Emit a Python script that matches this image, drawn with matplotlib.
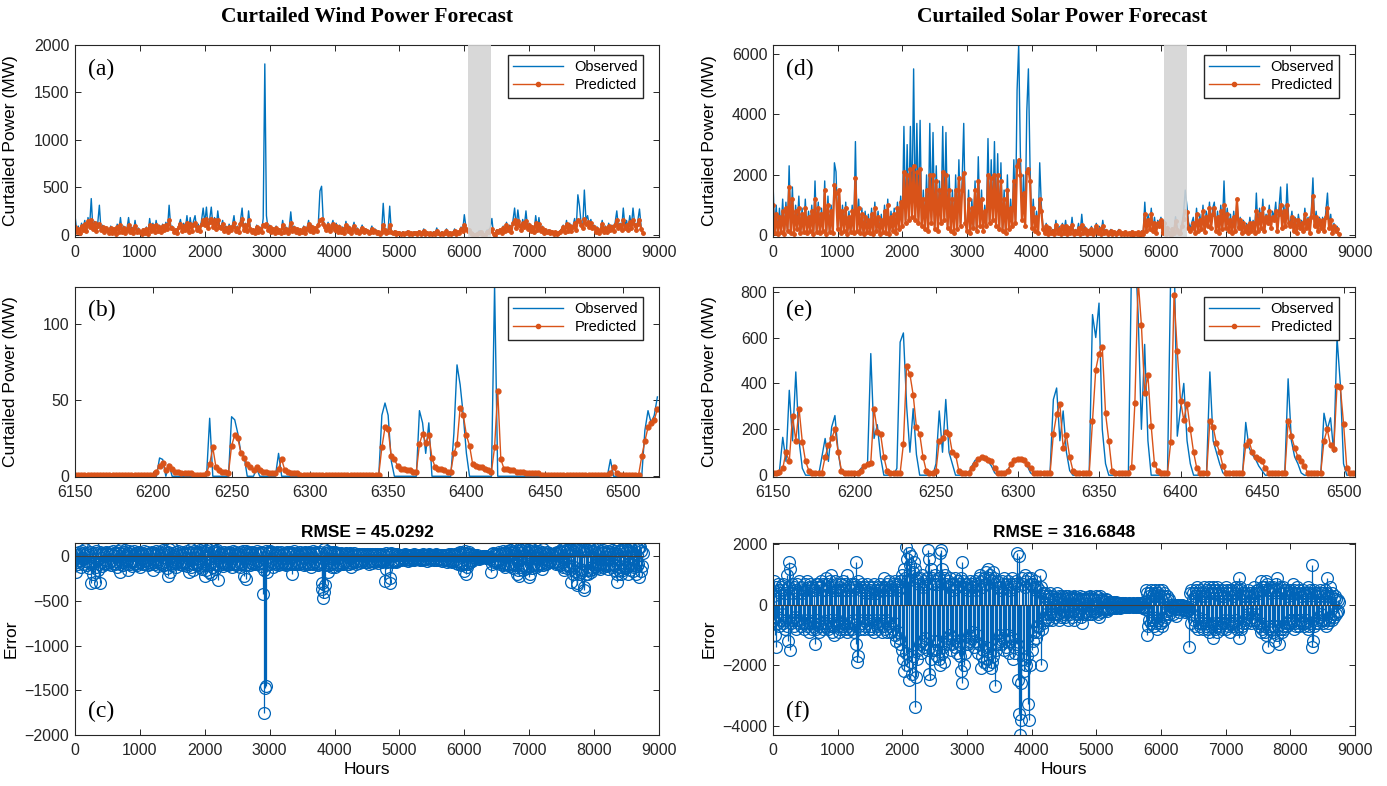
import matplotlib.pyplot as plt
import numpy as np

plt.rcParams['font.family'] = ['Liberation Sans', 'DejaVu Sans']

BLUE = '#0072BD'
ERR_BLUE = '#0064B8'
ORANGE = '#D95319'

# ---- full-year observed / predicted, one value every 25 h ----
year_step = 25

wind_obs = [
    200, 40, 90, 20, 120, 60, 150, 30, 180, 90, 380, 60, 140, 30, 120, 310, 50, 100, 20, 80,
    60, 20, 90, 30, 70, 10, 110, 40, 180, 30, 90, 20, 60, 180, 40, 80, 20, 150, 30, 70,
    40, 10, 60, 20, 80, 10, 170, 40, 120, 30, 150, 40, 100, 30, 110, 50, 130, 60, 310, 80,
    90, 30, 60, 20, 100, 160, 40, 120, 60, 200, 30, 180, 50, 140, 200, 60, 110, 40, 150, 280,
    120, 290, 80, 160, 290, 90, 180, 60, 250, 100, 80, 150, 50, 90, 30, 110, 60, 100, 200, 40,
    90, 30, 150, 280, 60, 120, 40, 250, 80, 30, 60, 20, 100, 40, 80, 30, 170, 1800, 200, 60,
    100, 40, 70, 20, 90, 30, 60, 20, 150, 40, 80, 20, 60, 240, 50, 90, 30, 70, 20, 60,
    40, 90, 20, 70, 150, 50, 100, 30, 80, 40, 120, 460, 510, 150, 100, 60, 130, 40, 90, 150,
    60, 120, 40, 100, 30, 80, 20, 140, 50, 90, 20, 60, 130, 30, 70, 20, 50, 100, 30, 60,
    50, 20, 40, 90, 30, 60, 20, 40, 10, 30, 330, 60, 20, 40, 300, 30, 20, 40, 10, 30,
    20, 10, 30, 10, 20, 40, 10, 20, 10, 30, 20, 10, 40, 10, 20, 60, 10, 30, 10, 20,
    10, 30, 10, 70, 20, 10, 30, 10, 20, 60, 10, 30, 10, 20, 60, 10, 30, 20, 80, 40,
    210, 80, 40, 60, 20, 10, 0, 0, 12, 38, 39, 5, 0, 0, 48, 43, 73, 170, 0, 0,
    50, 30, 60, 20, 90, 40, 130, 60, 100, 30, 150, 280, 80, 260, 120, 60, 160, 90, 250, 70,
    120, 50, 90, 30, 200, 60, 180, 40, 90, 20, 60, 30, 50, 20, 40, 10, 30, 10, 20, 40,
    60, 100, 30, 150, 50, 120, 40, 90, 170, 60, 420, 300, 120, 80, 470, 150, 200, 100, 160, 80,
    100, 40, 80, 20, 60, 150, 40, 90, 30, 120, 60, 100, 40, 130, 250, 80, 120, 60, 280, 90,
    150, 60, 200, 90, 280, 120, 60, 150, 270, 80, 30,
]
wind_pred = [
    80, 30, 60, 20, 90, 50, 110, 40, 140, 80, 150, 60, 120, 40, 90, 110, 50, 80, 30, 70,
    50, 20, 70, 20, 60, 10, 80, 30, 100, 30, 70, 20, 50, 100, 30, 60, 20, 90, 30, 50,
    30, 10, 50, 20, 60, 10, 100, 40, 90, 30, 100, 40, 80, 30, 90, 50, 100, 60, 150, 70,
    70, 30, 50, 20, 80, 110, 40, 90, 50, 120, 30, 110, 40, 100, 120, 50, 80, 40, 110, 150,
    100, 160, 70, 130, 160, 80, 150, 60, 150, 80, 70, 110, 40, 70, 30, 80, 50, 80, 120, 40,
    70, 30, 110, 160, 50, 100, 40, 150, 60, 30, 50, 20, 80, 30, 60, 30, 100, 90, 110, 50,
    80, 30, 60, 20, 70, 30, 50, 20, 100, 30, 60, 20, 50, 120, 40, 70, 30, 60, 20, 50,
    30, 70, 20, 60, 110, 40, 80, 30, 70, 40, 100, 150, 160, 110, 80, 50, 100, 40, 70, 110,
    50, 90, 30, 80, 30, 60, 20, 100, 40, 70, 20, 50, 90, 30, 50, 20, 40, 70, 30, 50,
    40, 20, 30, 60, 30, 40, 20, 30, 10, 30, 100, 50, 20, 30, 100, 30, 20, 30, 10, 20,
    20, 10, 20, 10, 20, 30, 10, 20, 10, 20, 20, 10, 30, 10, 20, 40, 10, 20, 10, 20,
    10, 20, 10, 40, 20, 10, 20, 10, 20, 40, 10, 20, 10, 20, 40, 10, 30, 20, 60, 40,
    100, 60, 40, 50, 20, 10, 1, 1, 8, 19, 27, 5, 1, 1, 31, 27, 44, 56, 3, 1,
    40, 30, 50, 20, 70, 40, 100, 50, 80, 30, 120, 150, 70, 140, 100, 50, 120, 80, 140, 60,
    100, 40, 80, 30, 120, 50, 110, 40, 70, 20, 50, 30, 40, 20, 30, 10, 30, 10, 20, 30,
    50, 80, 30, 110, 40, 90, 40, 80, 120, 50, 150, 140, 100, 70, 160, 110, 130, 80, 120, 70,
    80, 30, 60, 20, 50, 110, 30, 70, 30, 90, 50, 80, 40, 100, 150, 70, 100, 50, 150, 70,
    100, 50, 130, 70, 150, 100, 50, 110, 150, 60, 20,
]

solar_obs = [
    1800, 100, 1000, 50, 900, 150, 1200, 80, 1100, 200, 2300, 100, 1600, 50, 1000, 300, 1300, 100, 900, 150,
    1200, 100, 800, 200, 1000, 50, 1800, 150, 1100, 100, 900, 200, 1800, 80, 1300, 150, 1000, 100, 2400, 2100,
    300, 1400, 100, 1000, 200, 1100, 80, 800, 150, 1000, 100, 3100, 200, 1200, 100, 900, 50, 800, 150, 700,
    100, 900, 50, 1100, 200, 800, 80, 700, 150, 1000, 100, 1200, 60, 800, 200, 900, 100, 1100, 300, 1300,
    400, 3600, 500, 3000, 600, 3600, 800, 5500, 700, 3700, 600, 3800, 400, 1500, 300, 2000, 200, 3700, 600, 3400,
    300, 2300, 200, 1800, 500, 3600, 600, 3400, 300, 2000, 200, 1500, 100, 2000, 300, 2500, 400, 1800, 3700, 500,
    200, 1500, 100, 1200, 300, 1800, 200, 2600, 400, 1500, 200, 1000, 400, 3200, 500, 2500, 600, 3100, 400, 2700,
    300, 2400, 200, 1500, 100, 2000, 300, 1200, 400, 2500, 500, 4800, 6300, 2800, 600, 2000, 400, 4100, 5500, 2300,
    300, 1200, 200, 800, 100, 2400, 1000, 300, 100, 400, 50, 300, 100, 200, 50, 500, 100, 300, 50, 400,
    100, 500, 50, 300, 100, 600, 50, 200, 100, 400, 50, 700, 100, 300, 50, 200, 100, 300, 50, 200,
    400, 100, 300, 50, 500, 100, 200, 50, 100, 200, 50, 150, 50, 100, 200, 50, 100, 50, 150, 50,
    100, 50, 150, 30, 100, 50, 120, 30, 150, 50, 1100, 200, 700, 300, 900, 200, 600, 100, 500, 400,
    600, 100, 500, 50, 300, 100, 10, 250, 100, 620, 280, 80, 70, 380, 750, 1500, 1000, 450, 230, 420,
    600, 100, 900, 200, 700, 300, 1000, 150, 800, 400, 1100, 300, 900, 1100, 200, 800, 100, 1000, 300, 1800,
    300, 900, 200, 700, 100, 800, 200, 1200, 300, 600, 100, 500, 200, 400, 100, 600, 200, 500, 100, 1400,
    200, 900, 300, 1200, 200, 700, 500, 1000, 300, 800, 600, 1100, 200, 900, 1600, 300, 1000, 400, 1700, 500,
    400, 800, 200, 600, 100, 700, 300, 500, 200, 900, 300, 600, 100, 800, 1900, 400, 800, 200, 600, 300,
    600, 200, 800, 1400, 300, 700, 100, 400, 200, 300, 50,
]
solar_pred = [
    1000, 80, 700, 50, 600, 120, 800, 60, 900, 150, 1600, 90, 1200, 40, 800, 200, 900, 80, 700, 100,
    900, 80, 600, 150, 800, 40, 1200, 100, 900, 80, 700, 150, 1500, 60, 1000, 120, 800, 80, 1650, 1400,
    200, 1500, 80, 800, 150, 900, 60, 600, 120, 800, 80, 1900, 150, 900, 80, 700, 40, 600, 100, 500,
    80, 700, 40, 900, 150, 600, 60, 500, 120, 800, 80, 1000, 50, 600, 150, 700, 80, 900, 200, 1100,
    300, 2100, 400, 2000, 500, 2200, 600, 2300, 500, 2100, 400, 2200, 300, 1200, 200, 1500, 150, 2000, 400, 2000,
    200, 1800, 150, 1500, 400, 2100, 500, 2000, 250, 1500, 150, 1200, 80, 1500, 200, 1900, 300, 1500, 2050, 400,
    150, 1200, 80, 900, 250, 1500, 150, 1800, 300, 1200, 150, 800, 300, 2000, 400, 1900, 500, 2000, 300, 2000,
    200, 1800, 150, 1200, 80, 1500, 200, 900, 300, 1800, 400, 2300, 2500, 2000, 500, 1400, 300, 2100, 2200, 1800,
    250, 900, 150, 600, 80, 1200, 800, 200, 80, 300, 40, 250, 80, 150, 40, 350, 80, 200, 40, 300,
    80, 300, 40, 250, 80, 350, 40, 150, 80, 250, 40, 350, 80, 200, 40, 150, 80, 200, 40, 150,
    300, 80, 200, 40, 300, 80, 150, 40, 80, 150, 40, 100, 40, 80, 150, 40, 80, 40, 100, 40,
    80, 40, 100, 30, 80, 40, 100, 30, 100, 40, 700, 150, 500, 200, 700, 150, 400, 80, 400, 300,
    500, 80, 400, 40, 250, 80, 10, 200, 80, 470, 190, 80, 70, 310, 560, 800, 780, 240, 150, 230,
    400, 80, 700, 150, 500, 200, 800, 100, 600, 300, 900, 250, 700, 900, 150, 600, 80, 800, 200, 1000,
    250, 700, 150, 500, 80, 600, 150, 1200, 250, 500, 80, 400, 150, 300, 80, 400, 150, 400, 80, 800,
    150, 700, 250, 900, 150, 600, 400, 800, 250, 600, 500, 800, 150, 700, 1000, 250, 800, 300, 1000, 400,
    300, 600, 150, 500, 80, 500, 250, 400, 150, 700, 250, 500, 80, 600, 1300, 300, 600, 150, 500, 250,
    500, 150, 600, 900, 250, 500, 80, 300, 150, 200, 40,
]

# ---- prediction errors, one value every 10 h ----
err_step = 10

wind_err = [
    -30, -170, 40, -60, 20, -90, 50, -40, 30, -120, 60, -20, 40, -80, 20, 80, -50, 30, -100, 40,
    -60, 20, -130, 50, -80, -300, 30, -200, 100, -60, -290, 40, -120, 60, -30, -150, 20, -90, 50, -300,
    -60, 30, -110, 40, -70, 20, -90, 50, -40, 30,
    40, -80, 20, -60, 50, -100, 30, -40, 60, -70, 20, -90, 40, -50, 30, -120, 60, -30, 40, -80,
    -170, 80, -60, 30, -100, 50, -40, 70, -90, 20, -50, 40, -150, 60, -80, 30, -60, 50, -110, 20,
    -40, 60, -90, 30, -70, 40, -100, 50, -60, 30,
    -120, 30, -60, 40, -80, 20, -50, 60, -90, 30, -40, 50, -100, 20, -60, 40, -80, 30, -70, 50,
    -150, 40, -60, 20, -90, 60, -40, 30, -110, 50, -70, 20, -80, 40, -60, 70, -100, 30, -50, 60,
    -90, 40, -130, 50, -220, 80, -180, 30, -70, 90,
    -100, 40, -70, 20, -60, 50, -120, 30, -50, 60, -90, 40, -60, 20, -80, 50, -100, 30, -70, 40,
    -60, 30, -110, 60, -90, 40, -180, 50, -120, 80, -70, 40, -150, 60, -90, 30, -60, 50, -100, 40,
    -80, 50, -120, 70, -60, 40, -140, 60, -90, 50,
    -220, 120, -150, 60, -100, 80, -180, 40, -60, 90, -200, 100, -120, 50, -80, 60, -140, 40, -90, 70,
    -270, 50, -100, 30, -60, 40, -80, 20, -110, 50, -70, 30, -90, 40, -60, 20, -100, 50, -80, 30,
    -50, 40, -120, 60, -90, 30, -70, 50, -100, 40,
    -80, 40, -60, 30, -120, 50, -90, 20, -70, 60, -220, 40, -100, 60, -250, 30, -80, 50, -60, 40,
    -100, 30, -70, 50, -90, 20, -60, 40, -80, 30, -50, 60, -90, 40, -70, 30, -110, 50, -60, 40,
    -420, -150, -1750, -1470, -1450, 60, -170, 40, -90, 50,
    60, -90, 40, -70, 50, -120, 30, -60, 40, -80, 30, -70, 50, -100, 40, -60, 20, -80, 50, -90,
    30, -60, 40, -80, 20, -100, 50, -70, 30, -60, 40, -90, 50, -70, 30, -200, 40, -90, 60, -60,
    30, -80, 40, -60, 20, -90, 50, -70, 30, -50,
    40, -70, 30, -100, 50, -80, 40, -60, 30, -90, 50, -80, 40, -120, 30, -70, 60, -90, 40, -60,
    30, -90, 50, -70, 40, -100, 30, -80, 50, -60, -300, -370, -470, -400, 80, -320, -100, 40, -90, 60,
    -180, 50, -100, 40, -90, 30, -120, 50, -70, 40,
    50, -120, 30, -80, 40, -100, 20, -60, 30, -90, 40, -70, 30, -90, 20, -60, 30, -50, 40, -80,
    30, -60, 20, -80, 40, -120, 30, -70, 20, -50, 40, -60, 20, -80, 30, -50, 20, -70, 30, -40,
    20, -60, 30, -50, 20, -40, 30, -60, 20, -40,
    30, -60, 20, -80, 30, -50, 20, -70, 30, -40, 20, -50, 30, -60, 20, -40, 30, -70, 20, -50,
    30, -40, 20, -60, 30, -50, 20, -40, -280, -140, 40, -60, 20, -50, 30, -300, -240, 40, -60, 30,
    -50, 20, -40, 30, -60, 20, -50, 30, -40, 20,
    20, -30, 10, -40, 20, -30, 10, -20, 30, -40, 20, -30, 10, -50, 20, -30, 10, -40, 20, -30,
    10, -20, 30, -40, 20, -30, 10, -20, 20, -30, 10, -40, 20, -30, 10, -20, 30, -40, 20, -30,
    10, -30, 20, -50, 10, -20, 30, -40, 20, -30,
    10, -30, 20, -40, 10, -20, 30, -40, 10, -30, 20, -40, 10, -30, 20, -50, 10, -30, 20, -40,
    10, -30, 20, -60, 10, -40, 30, -50, 20, -40, 30, -60, 20, -50, 10, -40, 30, -70, 20, -50,
    40, -80, 30, -60, 50, -100, 20, -80, 40, -90,
    -160, 60, -200, 40, -120, 30, -80, 50, -60, 20, -40, 30, -50, 20, -30, 10, -20, 10, -20, 10,
    -4, -6, -3, -30, -18, -20, -3, -8, -6, -1, 0, 0, 0, 0, -16, -9, -18, -10, -6, -28,
    -12, -170, 30, -80, 40, -60, 20, -40, 30, -50,
    30, -60, 20, -40, 50, -80, 30, -60, 40, -100, 60, -90, 40, -120, 50, -70, 30, -100, 60, -80,
    70, -110, 50, -90, 40, -130, 60, -100, 30, -80, 90, -200, 60, -150, 80, -220, 40, -120, 70, -100,
    100, -150, 60, -120, 80, -90, 50, -130, 70, -110,
    -230, 90, -200, 60, -130, 80, -100, 40, -90, 60, -120, 50, -80, 30, -100, 60, -70, 40, -90, 50,
    -140, 80, -100, 40, -60, 30, -80, 50, -70, 30, -50, 40, -60, 30, -40, 20, -60, 30, -50, 40,
    -60, 30, -80, 50, -70, 40, -90, 60, -100, 50,
    -60, 80, -120, 60, -150, 90, -100, 50, -130, 70, -90, 60, -110, 80, -140, -290, 70, -200, 60, -120,
    80, -160, 100, -300, -320, 70, -200, 90, -140, 60, -180, 80, -150, 60, -380, -340, 90, -200, 70, -150,
    160, -200, 120, -150, 80, -180, 60, -120, 90, -140,
    60, -110, 40, -90, 80, -130, 50, -100, 30, -140, 60, -80, 40, -120, 70, -100, 50, -90, 30, -110,
    40, -140, 60, -100, 30, -80, 50, -120, 70, -90, 40, -150, 60, -100, 30, -290, -200, 90, -150, 60,
    -120, 70, -200, 80, -150, 60, -110, 90, -130, 50,
    -120, 70, -200, 130, -90, 60, -150, 80, -100, 50, -160, 90, -120, 60, -200, 130, -110, 80, -90, 100,
    -230, 100, -160, 60, -110, 40,
]

solar_err = [
    300, -500, 800, -1000, -1400, 600, -400, 700, -600, 500, -700, 400, -500, 600, -300, 700, -600, 500, -800, 400,
    -500, 1000, -700, 600, -1200, 1400, -1500, 1200, -600, 700, -500, 400, -700, 600, -400, 500, -800, 700, -500, 400,
    -600, 800, -500, 600, -700, 400, -600, 500, -800, 700,
    -600, 500, -700, 800, -500, 600, -900, 700, -600, 500, -800, 600, -700, 500, -600, -1300, 700, -800, 600, -500,
    700, -900, 600, -700, 800, -600, 500, -800, 700, -600, 500, -700, 900, -600, 700, -800, 600, -500, 800, -700,
    1000, -900, 600, -700, 500, -1000, 800, -600, 700, -500,
    -700, 500, -900, 600, -800, 700, -600, 500, -700, 800, -600, 700, -800, 500, -900, 1000, -700, 600, -800, 500,
    -600, 700, -800, 600, -500, 700, -900, 600, -1300, 1400, -1900, -1700, 800, -700, 600, -800, 500, -600, 700, -500,
    600, -800, 500, -700, 400, -600, 700, -500, 600, -800,
    500, -700, 400, -800, 600, -500, 700, -900, 500, -600, 400, -700, 600, -800, 500, -600, 700, -500, 600, -900,
    500, -700, 900, -800, 600, -500, 700, -900, 500, -600, 800, -700, 600, -900, 500, -800, 700, -600, 800, -1000,
    600, -1200, 700, -900, 500, -1100, 800, -1300, 600, -1500,
    1000, -1800, 1200, -2200, 900, 1900, -1600, 1500, -2000, 800, 1700, -2500, 1300, -1900, 1600, -2300, 1100, -1700, 1400, -3400,
    1200, -2400, 900, -1800, 800, -1500, 700, -1300, 900, -1600, 1000, -1200, 600, -1400, 800, -1100, 700, -1300, 900, -1500,
    1800, -2300, 1500, -2500, 1200, -1800, 900, -1500, 700, -1200,
    1000, -1500, 800, -1700, 700, -1200, 900, -1800, 1700, -2000, 1800, -1600, 1200, -1400, 900, -1900, 1000, -1300, 700, -1100,
    800, -1200, 600, -1000, 900, -1500, 700, -1300, 500, -1100, 700, -1400, 900, -1200, 600, -1600, 800, -1300, 700, -1700,
    900, -2200, 1400, -2600, 800, -2000, 600, -1600, 700, -1300,
    700, -1300, 500, -1000, 800, -1200, 600, -1100, 700, -900, 600, -1400, 800, -1200, 500, -1000, 700, -1600, 900, -1300,
    1000, -2100, 800, -1700, 600, -1500, 900, -1900, 700, -1400, 1100, -1800, 1200, -2000, 900, -1600, 1000, -2100, 800, -1900,
    1100, -1700, 900, -2700, 700, -1500, 800, -1300, 600, -1200,
    600, -1000, 500, -1300, 800, -1100, 700, -1500, 900, -1200, 700, -1400, 600, -1000, 800, -1600, 500, -1200, 700, -1100,
    900, -1800, 600, -1400, 700, -1600, 800, -1300, 1700, -2500, 1600, -3600, -4300, -3800, -2600, 900, -1800, 700, -2200, 600,
    1000, -2000, 800, -1700, 900, -3300, -3800, 700, -2000, 900,
    -1500, 700, -1200, 600, -900, 800, -1100, 500, -700, 600, -900, 500, -700, 1000, -2000, 600, -800, 400, -600, 300,
    -500, 400, -300, 200, -400, 300, -500, 200, -300, 400, -250, 300, -500, 200, -300, 250, -400, 200, -300, 400,
    -300, 200, -500, 300, -250, 200, -400, 300, -200, 250,
    -300, 200, -400, 300, -250, 200, -500, 300, -200, 250, -300, 200, -400, 250, -200, 300, -500, 200, -300, 250,
    -200, 150, -300, 200, -250, 300, -400, 200, -600, 250, -300, 200, -250, 150, -300, 200, -200, 250, -300, 200,
    -150, 300, -200, 250, -300, 200, -250, 150, -200, 300,
    -200, 150, -300, 250, -400, 300, -150, 200, -250, 150, -200, 150, -100, 100, -150, 200, -200, 150, -100, 100,
    -150, 80, -100, 100, -80, 60, -120, 80, -100, 60, -100, 80, -60, 50, -80, 60, -100, 50, -70, 60,
    -80, 60, -50, 40, -70, 50, -60, 40, -50, 30,
    -60, 50, -40, 30, -50, 40, -60, 50, -40, 30, -50, 40, -80, 60, -40, 50, -60, 40, -70, 50,
    -80, 60, -100, 80, -60, 100, -150, 500, -1000, 400, -700, 300, -500, 400, -600, 500, -400, 300, -500, 400,
    -700, 500, -600, 300, -800, 400, -500, 500, -600, 300,
    -600, 500, -700, 300, -500, 400, -300, 200, -400, 300, -200, 150, -300, 200, -150, -10, -160, -40, -300, -60,
    -60, -80, -20, -370, -130, -40, -10, -20, -240, -130, 0, 0, -30, -20, -150, -40, -170, -240, -30, -160,
    -215, -90, -160, -120, -1400, 400, -600, 500, -300, 200,
    400, -500, 300, -700, 500, -400, 600, -800, 400, -600, 500, -700, 300, -600, 400, -800, 600, -500, 300, -700,
    500, -600, 400, -800, 600, -900, 500, -700, 400, -600, 600, -1100, 500, -800, 400, -700, 600, -900, 500, -600,
    400, -700, 300, -600, 500, -800, 400, -600, 300, -500,
    600, -800, 500, -700, 400, -600, 500, -900, 400, -600, 500, -700, 300, -600, 400, -500, 600, -800, 500, -700,
    900, -1100, 600, -800, 500, -700, 400, -600, 300, -500, 400, -600, 300, -400, 500, -300, 400, -500, 300, -600,
    400, -500, 300, -400, 600, -500, 400, -300, 500, -600,
    500, -700, 400, -600, 800, -900, 600, -800, 500, -700, 600, -900, 800, -1000, 700, -1400, 500, -800, 600, -700,
    400, -800, 500, -900, 600, -700, 500, -1200, 700, -1000, 900, -700, 500, -1300, 600, -800, 400, -900, 600, -700,
    500, -800, 400, -600, 500, -700, 300, -600, 400, -500,
    500, -600, 400, -500, 700, -800, 500, -600, 400, -700, 600, -500, 400, -700, 500, -600, 300, -500, 400, -600,
    500, -700, 400, -600, 300, -500, 400, -800, 600, -700, 500, -600, 400, -1400, 1300, -1200, 500, -700, 400, -600,
    300, -500, 400, -600, 300, -400, 500, -300, 400, -500,
    400, -600, 300, -500, 500, -700, 400, 900, -600, 300, -500, 600, -400, 300, -500, 400, -300, 200, -400, 300,
    -300, 200, -250, 150, -200, 100,
]

# ---- zoomed windows, one value every 2 h ----
zoom_start = 6150
zoom_step = 2

wind_obs_zoom = [
    0, 0, 0, 0, 0, 0, 0, 0, 0, 0, 0, 0, 0, 0, 0, 0, 0, 0, 0, 0, 0, 0, 0, 0, 0,
    0, 0, 12, 11, 0, 8, 0, 0, 0, 0, 0, 0, 0, 0, 0, 0, 0, 0, 38, 0, 0, 0, 0, 0, 0,
    39, 37, 28, 15, 13, 0, 0, 0, 5, 0, 0, 0, 0, 0, 0, 15, 0, 0, 0, 0, 0, 0, 0, 0, 0,
    0, 0, 0, 0, 0, 0, 0, 0, 0, 0, 0, 0, 0, 0, 0, 0, 0, 0, 0, 0, 0, 0, 0, 40, 48,
    40, 10, 0, 0, 0, 0, 0, 0, 0, 0, 43, 35, 15, 35, 0, 0, 0, 0, 0, 0, 0, 28, 73, 60, 40,
    15, 0, 0, 0, 0, 0, 0, 0, 0, 125, 0, 0, 0, 0, 0, 0, 0, 0, 0, 0, 0, 0, 0, 0, 0,
    0, 0, 0, 0, 0, 0, 0, 0, 0, 0, 0, 0, 0, 0, 0, 0, 0, 0, 0, 0, 0, 11, 0, 0, 0,
    0, 0, 0, 0, 0, 0, 0, 30, 43, 35, 40, 52,
]
wind_pred_zoom = [
    1, 1, 1, 1, 1, 1, 1, 1, 1, 1, 1, 1, 1, 1, 1, 1, 1, 1, 1, 1, 1, 1, 1, 1, 1,
    1, 3, 7, 9, 4, 7, 5, 3, 3, 2, 2, 2, 2, 1, 1, 1, 1, 2, 8, 19, 6, 4, 3, 3, 2,
    20, 27, 25, 15, 12, 8, 6, 4, 6, 4, 3, 3, 2, 2, 2, 5, 11, 4, 3, 2, 2, 2, 1, 1, 1,
    1, 1, 1, 1, 1, 1, 1, 1, 1, 1, 1, 1, 1, 1, 1, 1, 1, 1, 1, 1, 1, 1, 1, 19, 32,
    31, 13, 11, 7, 5, 5, 4, 4, 3, 3, 21, 28, 22, 27, 12, 6, 5, 5, 4, 3, 3, 15, 21, 45, 40,
    27, 20, 8, 7, 6, 6, 5, 4, 3, 19, 56, 11, 5, 5, 4, 4, 3, 3, 3, 2, 2, 2, 2, 2, 1,
    1, 1, 1, 1, 1, 1, 1, 1, 1, 1, 1, 1, 1, 1, 1, 1, 1, 1, 1, 1, 1, 2, 6, 2, 1,
    1, 1, 1, 1, 1, 1, 13, 23, 32, 35, 37, 44,
]
solar_obs_zoom = [
    10, 10, 20, 165, 60, 370, 150, 450, 150, 30, 0, 0, 0, 0, 0, 80, 160, 60, 210, 260, 100, 10, 0, 0, 0,
    0, 10, 30, 40, 50, 530, 160, 220, 80, 0, 0, 0, 0, 30, 580, 620, 300, 100, 290, 90, 0, 0, 0, 0, 0,
    50, 280, 100, 330, 100, 50, 0, 0, 0, 0, 10, 40, 65, 70, 75, 70, 60, 40, 10, 0, 0, 0, 20, 50, 65,
    72, 75, 65, 40, 10, 0, 0, 0, 0, 0, 20, 330, 380, 150, 280, 100, 20, 0, 0, 0, 0, 0, 20, 700, 600,
    750, 200, 50, 0, 0, 0, 0, 0, 0, 0, 950, 1000, 700, 200, 570, 150, 0, 0, 0, 0, 0, 0, 900, 1000, 170,
    290, 400, 150, 50, 0, 0, 0, 0, 20, 450, 150, 100, 50, 10, 0, 0, 0, 0, 0, 0, 230, 120, 90, 70, 40,
    20, 0, 0, 0, 0, 0, 0, 20, 420, 150, 80, 50, 10, 0, 0, 0, 0, 0, 0, 270, 200, 250, 100, 600, 400,
    50, 0, 0, 0,
]
solar_pred_zoom = [
    10, 10, 15, 30, 100, 60, 260, 150, 290, 145, 60, 20, 10, 10, 10, 10, 80, 130, 160, 200, 100, 20, 10, 10, 10,
    10, 10, 20, 40, 50, 55, 290, 190, 180, 80, 20, 10, 10, 10, 10, 135, 475, 440, 350, 210, 180, 80, 20, 10, 10,
    20, 150, 160, 190, 180, 100, 90, 20, 10, 10, 10, 30, 50, 70, 80, 75, 65, 60, 30, 10, 10, 10, 20, 50, 65,
    70, 72, 68, 50, 30, 10, 10, 10, 10, 10, 10, 180, 265, 310, 120, 175, 80, 20, 10, 10, 10, 10, 10, 235, 460,
    530, 560, 270, 150, 20, 10, 10, 10, 10, 10, 35, 315, 850, 655, 360, 435, 215, 50, 20, 10, 10, 10, 145, 785, 540,
    325, 240, 310, 200, 100, 30, 10, 10, 10, 235, 210, 140, 100, 40, 10, 10, 10, 10, 10, 10, 130, 150, 100, 80, 70,
    60, 30, 10, 10, 10, 10, 10, 10, 235, 170, 120, 80, 60, 40, 10, 10, 10, 10, 10, 150, 200, 130, 115, 390, 385,
    225, 30, 10, 10,
]

shade_span = (6050, 6410)
rmse_wind = 45.0292
rmse_solar = 316.6848


def hours(vals, start, step):
    return start + np.arange(len(vals)) * step


def matlab_axes(ax):
    ax.tick_params(direction='in', top=True, right=True, length=4, width=0.7,
                   labelsize=11.5, colors='#262626', pad=6)
    ax.tick_params(axis='y', pad=4)
    for s in ax.spines.values():
        s.set_linewidth(0.8)
        s.set_color('#262626')


def obs_pred(ax, obs, pred, start, step, ms, lw):
    ax.plot(hours(obs, start, step), obs, color=BLUE, lw=1.0, label='Observed')
    ax.plot(hours(pred, start, step), pred, '.-', color=ORANGE, lw=lw, ms=ms,
            label='Predicted')
    leg = ax.legend(loc='upper right', bbox_to_anchor=(0.973, 0.948), borderaxespad=0,
                    fontsize=10.5, frameon=True, fancybox=False, edgecolor='#262626',
                    framealpha=1, handlelength=3.4, borderpad=0.35, labelspacing=0.3,
                    numpoints=1, markerscale=6 / ms)
    leg.get_lines()[1].set_linewidth(1.0)


def error_stem(ax, err, rmse):
    markers, stems, base = ax.stem(hours(err, 0, err_step), err, linefmt='-',
                                   markerfmt='o', basefmt='-')
    plt.setp(stems, color=ERR_BLUE, lw=0.9)
    plt.setp(markers, color=ERR_BLUE, markerfacecolor='none', ms=8.5, mew=0.9)
    plt.setp(base, color='#404040', lw=0.8)
    ax.set_title(f'RMSE = {rmse}', fontweight='bold', fontsize=12.5, pad=4)
    ax.set_xlabel('Hours', fontsize=12.5, labelpad=3)
    ax.set_ylabel('Error', fontsize=12.5)


def panel_label(ax, txt, y):
    ax.text(0.022, y, txt, transform=ax.transAxes, family=['Liberation Serif'],
            fontsize=17, va='center', ha='left', zorder=6)


fig = plt.figure(figsize=(13.87, 7.86), dpi=100)
lefts = [0.0541, 0.5573]
widths = [0.421, 0.4196]
rows = [(0.6985, 0.2443), (0.3931, 0.2417), (0.0649, 0.2443)]
axs = [[fig.add_axes([lefts[c], rows[r][0], widths[c], rows[r][1]]) for r in range(3)]
       for c in range(2)]

# ---------------- wind column ----------------
ax = axs[0][0]
obs_pred(ax, wind_obs, wind_pred, 0, year_step, 5, 1.6)
ax.axvspan(*shade_span, color='#d3d3d3', alpha=0.88, lw=0, zorder=3)
ax.set_xlim(0, 9000)
ax.set_ylim(-25, 2000)
ax.set_yticks([0, 500, 1000, 1500, 2000])
ax.set_ylabel('Curtailed Power (MW)', fontsize=12.5)
panel_label(ax, '(a)', 0.875)

ax = axs[0][1]
obs_pred(ax, wind_obs_zoom, wind_pred_zoom, zoom_start, zoom_step, 7, 1.0)
ax.set_xlim(6150, 6523)
ax.set_ylim(-0.5, 124)
ax.set_xticks(np.arange(6150, 6501, 50))
ax.set_yticks([0, 50, 100])
ax.set_ylabel('Curtailed Power (MW)', fontsize=12.5)
panel_label(ax, '(b)', 0.875)

ax = axs[0][2]
error_stem(ax, wind_err, rmse_wind)
ax.set_xlim(0, 9000)
ax.set_ylim(-2000, 150)
ax.set_yticks([-2000, -1500, -1000, -500, 0])
panel_label(ax, '(c)', 0.12)

# ---------------- solar column ----------------
ax = axs[1][0]
obs_pred(ax, solar_obs, solar_pred, 0, year_step, 5, 1.6)
ax.axvspan(*shade_span, color='#d3d3d3', alpha=0.88, lw=0, zorder=3)
ax.set_xlim(0, 9000)
ax.set_ylim(-50, 6290)
ax.set_yticks([0, 2000, 4000, 6000])
ax.set_ylabel('Curtailed Power (MW)', fontsize=12.5)
panel_label(ax, '(d)', 0.875)

ax = axs[1][1]
obs_pred(ax, solar_obs_zoom, solar_pred_zoom, zoom_start, zoom_step, 7, 1.0)
ax.set_xlim(6150, 6507)
ax.set_ylim(-8, 820)
ax.set_xticks(np.arange(6150, 6501, 50))
ax.set_yticks([0, 200, 400, 600, 800])
ax.set_ylabel('Curtailed Power (MW)', fontsize=12.5)
panel_label(ax, '(e)', 0.875)

ax = axs[1][2]
error_stem(ax, solar_err, rmse_solar)
ax.set_xlim(0, 9000)
ax.set_ylim(-4310, 2045)
ax.set_yticks([-4000, -2000, 0, 2000])
panel_label(ax, '(f)', 0.12)

for c in range(2):
    for r in range(3):
        matlab_axes(axs[c][r])
        axs[c][r].yaxis.set_label_coords(-0.097, 0.5)

fig.text(0.2646, 0.978, 'Curtailed Wind Power Forecast', ha='center', va='center',
         family=['Liberation Serif'], fontweight='bold', fontsize=15.5)
fig.text(0.7657, 0.978, 'Curtailed Solar Power Forecast', ha='center', va='center',
         family=['Liberation Serif'], fontweight='bold', fontsize=15.5)

fig.savefig('out.png', dpi=100, facecolor='white')
